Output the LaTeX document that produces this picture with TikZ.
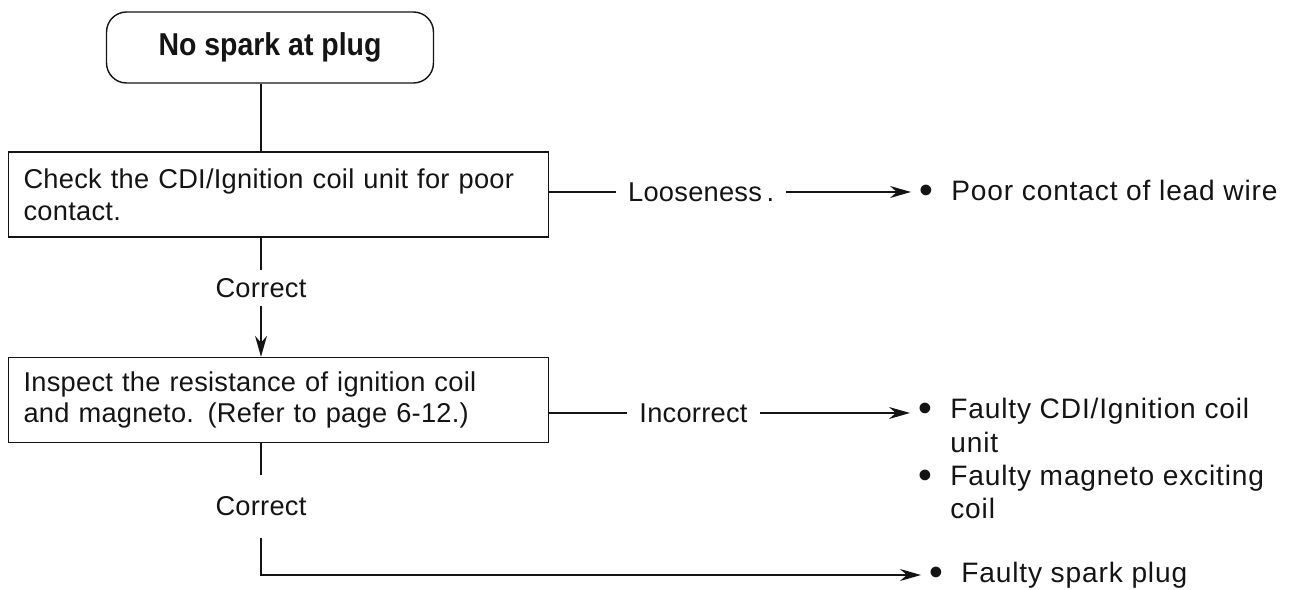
\documentclass[tikz,border=0pt]{standalone}
\usepackage{fontspec}
\setmainfont{Liberation Sans}[LetterSpace=1]
\newfontfamily\titlefont{Liberation Sans}[FakeStretch=0.9]
\newfontfamily\resultfont{Liberation Sans}[LetterSpace=3]
\usepackage{tikz}
\usetikzlibrary{positioning, arrows.meta}
\definecolor{fInk}{HTML}{141414}
\newcommand{\bodyfont}{\fontsize{15.5}{18}\selectfont}
\newcommand{\bitem}{\makebox[0.64cm][l]{\raisebox{-0.1em}{\scalebox{1.4}{\textbullet}}}}
\tikzset{
  startbox/.style={draw=fInk, thick, rounded corners=0.4cm, minimum width=6.54cm,
    minimum height=1.42cm, text=fInk, font=\titlefont\bfseries\fontsize{18}{21}\selectfont},
  chkbox/.style={draw=fInk, thick, minimum width=10.8cm, minimum height=1.7cm,
    inner xsep=0.3cm, text width=10.2cm, text=fInk, align=left, font=\bodyfont},
  result/.style={anchor=west, align=left, inner xsep=0.16cm, inner ysep=0pt,
    text=fInk, font=\resultfont\fontsize{16}{19}\selectfont},
  flowline/.style={draw=fInk, thick},
  flowarrow/.style={flowline, -{Stealth[length=0.42cm, width=0.24cm]}},
  edgelabel/.style={fill=white, inner xsep=0.24cm, text=fInk, font=\bodyfont},
}

\begin{document}
\begin{tikzpicture}[x=0.02cm, y=-0.02cm]
  \useasboundingbox (0,0) rectangle (1302,590);
  \coordinate (spine) at (261,0);
  \node[startbox] (start) at (270,47.5) {No spark at plug};
  \node[chkbox] (chk1) at (278.5,194.5) {Check the CDI/Ignition coil unit for poor\\contact.};
  \node[chkbox] (chk2) at (278.5,400) {Inspect the resistance of ignition coil\\and magneto. (Refer to page 6-12.)};
  \node[result] (res1) at (911,192) {\bitem Poor contact of lead wire};
  \node[result, anchor=north west] (res2) at (910,398) {\bitem Faulty CDI/Ignition coil\\
    \hspace*{0.64cm}unit\\\bitem Faulty magneto exciting\\\hspace*{0.64cm}coil};
  \node[result] (res3) at (921,575) {\bitem Faulty spark plug};
  \coordinate (inc) at (910,413);
  \coordinate (turn) at (261,575);
  \draw[flowline] (start.south -| spine) -- (chk1.north -| spine);
  \draw[flowarrow] (chk1.south -| spine) -- node[edgelabel, pos=0.42, inner ysep=0.17cm] {Correct}
    (chk2.north -| spine);
  \draw[flowarrow] (chk1.east |- res1) -- node[edgelabel, pos=0.42] {Looseness\,.} (res1.west);
  \draw[flowarrow] (chk2.east |- inc) -- node[edgelabel, pos=0.4] {Incorrect} (inc);
  \draw[flowarrow] (chk2.south -| spine) -- node[edgelabel, pos=0.48, inner ysep=0.44cm] {Correct}
    (turn) -- (res3.west);
\end{tikzpicture}
\end{document}
